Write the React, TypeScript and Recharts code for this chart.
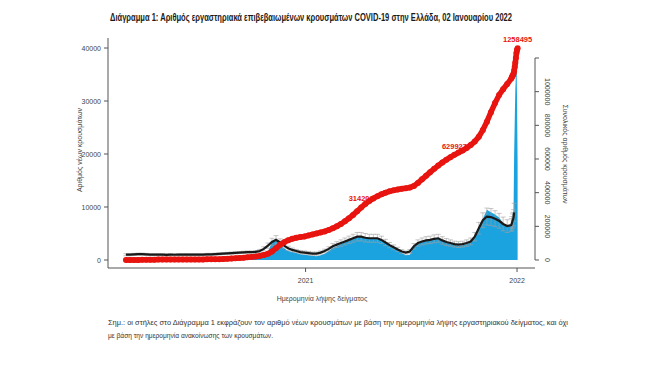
import { ComposedChart, Area, Line, XAxis, YAxis, ErrorBar, LabelList, ReferenceLine } from 'recharts';

// ─── Data ─────────────────────────────────────────────────────────────────────

// weekly samples from 2020-02-26 (day 56 of 2020), then daily from 2021-12-23
const WEEK_START_DAY = 56;
const DAILY_START_DAY = 722;

const weeklyCases = [
  5, 20, 60, 60, 80, 90, 70, 40, 30, 20,
  15, 10, 10, 10, 10, 15, 15, 15,
  20, 30, 35, 30, 40, 120, 180, 200, 220,
  200, 260, 300, 330, 300,
  400, 550, 900, 1600, 3300, 3800, 2900, 2200, 1700, 1500, 1300, 1100, 1000,
  900, 800, 700, 900, 1200, 1700, 2300, 2600, 3000, 3400,
  3700, 4000, 4400, 4500, 4200, 4000, 4100, 4200, 3800, 3300,
  2700, 2300, 1900, 1300, 900, 1000,
  2400, 3000, 3400, 3700, 3800, 4000, 4200, 3700, 3400, 3100,
  2900, 2700, 2800, 3000, 3300, 4300, 6000, 7800, 9500, 9000,
  8600, 8000, 7000, 6300, 6500,
];

const weeklyTrend = [
  1000, 1000, 1050, 1100, 1100, 1050, 1000, 1000, 1000, 1000,
  980, 1000, 990, 1000, 1000, 1010, 1000, 1000,
  1000, 1000, 1050, 1050, 1100, 1150, 1200, 1250, 1300,
  1350, 1400, 1450, 1500, 1500,
  1550, 1700, 2100, 2700, 3400, 3800, 3300, 2700, 2200, 1900, 1700, 1500, 1400,
  1300, 1200, 1200, 1400, 1700, 2100, 2600, 2900, 3200, 3500,
  3800, 4100, 4400, 4400, 4200, 4100, 4100, 4100, 3800, 3300,
  2800, 2400, 2000, 1600, 1400, 1600,
  2600, 3200, 3500, 3700, 3800, 4000, 4100, 3700, 3400, 3200,
  3000, 2900, 3000, 3200, 3500, 4400, 6000, 7500, 8200, 8100,
  7800, 7400, 6800, 6400, 6600,
];

const weeklyCi = [
  200, 200, 200, 200, 200, 200, 200, 200, 200, 200,
  200, 200, 200, 200, 200, 200, 200, 200,
  200, 200, 200, 200, 200, 200, 200, 200, 200,
  200, 200, 200, 200, 200,
  250, 300, 400, 500, 700, 800, 700, 500, 400, 350, 300, 300, 300,
  300, 300, 300, 300, 350, 400, 500, 550, 600, 650,
  700, 750, 800, 800, 800, 750, 750, 750, 700, 600,
  500, 450, 400, 350, 300, 350,
  500, 600, 650, 700, 700, 750, 750, 700, 650, 600,
  550, 550, 550, 600, 650, 800, 1100, 1400, 1600, 1600,
  1500, 1400, 1300, 1200, 1200,
];

const weeklyTotal = [
  3, 10, 100, 420, 820, 1300, 1900, 2200, 2400, 2590,
  2700, 2760, 2850, 2900, 2950, 3100, 3200, 3300,
  3430, 3600, 3900, 4100, 4300, 5000, 6200, 7600, 9300,
  10500, 12300, 14000, 16300, 18500,
  21000, 24500, 29500, 37000, 50000, 70000, 90000, 106000, 117000, 126000, 132000, 136000, 140000,
  146000, 152000, 158000, 164000, 170000, 178000, 188000, 200000, 214000, 230000,
  248000, 268000, 290000, 312000, 333000, 351000, 366000, 379000, 390000, 400000,
  408000, 414000, 419000, 423000, 426000, 430000,
  440000, 458000, 479000, 500000, 522000, 542000, 561000, 579000, 596000, 611000,
  625000, 638000, 650000, 666000, 683000, 704000, 732000, 772000, 822000, 878000,
  932000, 980000, 1015000, 1045000, 1078000,
];

const dailyCases = [7500, 9000, 7000, 9500, 20000, 26000, 32000, 35000, 39000, 30000, 18000];
const dailyTrend = [6900, 7300, 7600, 8000, 9000, null, null, null, null, null, null];
const dailyCi = [1300, 1400, 1400, 1500, 1700, null, null, null, null, null, null];
const dailyTotal = [1085000, 1093000, 1099000, 1107000, 1124000, 1146000, 1172000, 1200000, 1230000, 1248000, 1258495];

// labels printed next to the cumulative curve, keyed by sample day
const totalLabels: Record<number, string> = {
  462: '314208',
  623: '629927',
  732: '1258495',
};

const yearTicks = [366, 731];
const yearLabels: Record<number, string> = { 366: '2021', 731: '2022' };
const leftTicks = [0, 10000, 20000, 30000, 40000];
const rightTicks = [0, 200000, 400000, 600000, 800000, 1000000, 1200000];

// ─── Table ────────────────────────────────────────────────────────────────────

const rows = [
  ...weeklyCases.map((c, i) => ({
    day: WEEK_START_DAY + 7 * i,
    cases: c,
    trend: weeklyTrend[i],
    ci: weeklyCi[i],
    total: weeklyTotal[i],
  })),
  ...dailyCases.map((c, j) => ({
    day: DAILY_START_DAY + j,
    cases: c,
    trend: dailyTrend[j],
    ci: dailyCi[j],
    total: dailyTotal[j],
  })),
].map((r) => ({ ...r, lbl: totalLabels[r.day] ?? '' }));

// ─── Styles ───────────────────────────────────────────────────────────────────

const FONT = '"Liberation Sans", Arial, sans-serif';
const BLUE = '#1ba3e0';
const RED = '#e8140f';
const AXIS = '#555';
const TEXT = '#444';

function LeftTick({ x, y, payload }: any) {
  return (
    <text x={x} y={y} dy={2.5} textAnchor="end" fontSize={7} fontFamily={FONT} fill={TEXT}>
      {payload.value}
    </text>
  );
}

function BottomTick({ x, y, payload }: any) {
  return (
    <text x={x} y={y} dy={5} textAnchor="middle" fontSize={7} fontFamily={FONT} fill={TEXT}>
      {yearLabels[payload.value] ?? ''}
    </text>
  );
}

function RightTick({ x, y, payload }: any) {
  if (payload.value === 1200000) return null;
  return (
    <text
      transform={`translate(${x + 4},${y}) rotate(90)`}
      textAnchor="middle"
      fontSize={7}
      fontFamily={FONT}
      fill={TEXT}
    >
      {payload.value}
    </text>
  );
}

function TotalLabel({ x, y, value }: any) {
  if (!value) return null;
  return (
    <text x={x} y={y - 6} textAnchor="middle" fontSize={7.5} fontFamily={FONT} fontWeight={600} fill={RED}>
      {value}
    </text>
  );
}

export default function App() {
  return (
    <div style={{ position: 'absolute', left: 0, top: 0, width: 650, height: 369, background: '#fff' }}>
      <ComposedChart
        width={650}
        height={369}
        data={rows}
        margin={{ top: 38, right: 85, bottom: 71, left: 48 }}
      >
        <XAxis
          type="number"
          dataKey="day"
          domain={[25, 762]}
          allowDataOverflow
          ticks={yearTicks}
          tick={<BottomTick />}
          tickSize={4}
          tickMargin={6}
          stroke={AXIS}
          height={30}
        />
        <YAxis
          yAxisId="left"
          domain={[-1509, 41887]}
          allowDataOverflow
          ticks={leftTicks}
          tick={<LeftTick />}
          tickSize={4}
          tickMargin={3}
          stroke={AXIS}
          width={60}
        />
        <YAxis
          yAxisId="right"
          orientation="right"
          domain={[-47525, 1318812]}
          allowDataOverflow
          ticks={rightTicks}
          tick={<RightTick />}
          tickSize={4}
          tickMargin={2}
          axisLine={false}
          stroke={AXIS}
          width={30}
        />
        <ReferenceLine
          yAxisId="right"
          segment={[{ x: 762, y: 0 }, { x: 762, y: 1200000 }]}
          stroke={AXIS}
          ifOverflow="visible"
        />

        <Area
          yAxisId="left"
          type="linear"
          dataKey="cases"
          fill={BLUE}
          fillOpacity={1}
          stroke="none"
          isAnimationActive={false}
        />
        <Line
          yAxisId="left"
          type="linear"
          dataKey="trend"
          stroke="#1a1a1a"
          strokeWidth={2.2}
          dot={false}
          isAnimationActive={false}
        >
          <ErrorBar dataKey="ci" width={2.5} stroke="#a0a0a0" strokeWidth={0.6} direction="y" />
        </Line>
        <Line
          yAxisId="right"
          type="linear"
          dataKey="total"
          stroke={RED}
          strokeWidth={5.5}
          dot={{ r: 3, fill: RED, stroke: 'none' }}
          isAnimationActive={false}
        >
          <LabelList dataKey="lbl" content={<TotalLabel />} />
        </Line>
      </ComposedChart>

      <svg width={650} height={369} style={{ position: 'absolute', left: 0, top: 0, pointerEvents: 'none' }}>
        <text x={110} y={21} fontSize={10} fontWeight={700} fontFamily={FONT} fill="#1a1a1a" textLength={402} lengthAdjust="spacingAndGlyphs">
          Διάγραμμα 1: Αριθμός εργαστηριακά επιβεβαιωμένων κρουσμάτων COVID-19 στην Ελλάδα, 02 Ιανουαρίου 2022
        </text>
        <text transform="translate(82,150) rotate(-90)" textAnchor="middle" fontSize={7} fontFamily={FONT} fill={TEXT}>
          Αριθμός νέων κρουσμάτων
        </text>
        <text transform="translate(563,154) rotate(90)" textAnchor="middle" fontSize={7} fontFamily={FONT} fill={TEXT}>
          Συνολικός αριθμός κρουσμάτων
        </text>
        <text x={322} y={301} textAnchor="middle" fontSize={7} fontFamily={FONT} fill={TEXT}>
          Ημερομηνία λήψης δείγματος
        </text>
        <text x={108} y={325} fontSize={7.5} fontFamily={FONT} fill="#333" textLength={460} lengthAdjust="spacingAndGlyphs">
          Σημ.: οι στήλες στο Διάγραμμα 1 εκφράζουν τον αριθμό νέων κρουσμάτων με βάση την ημερομηνία λήψης εργαστηριακού δείγματος, και όχι
        </text>
        <text x={108} y={338} fontSize={7.5} fontFamily={FONT} fill="#333" textLength={165} lengthAdjust="spacingAndGlyphs">
          με βάση την ημερομηνία ανακοίνωσης των κρουσμάτων.
        </text>
      </svg>
    </div>
  );
}
